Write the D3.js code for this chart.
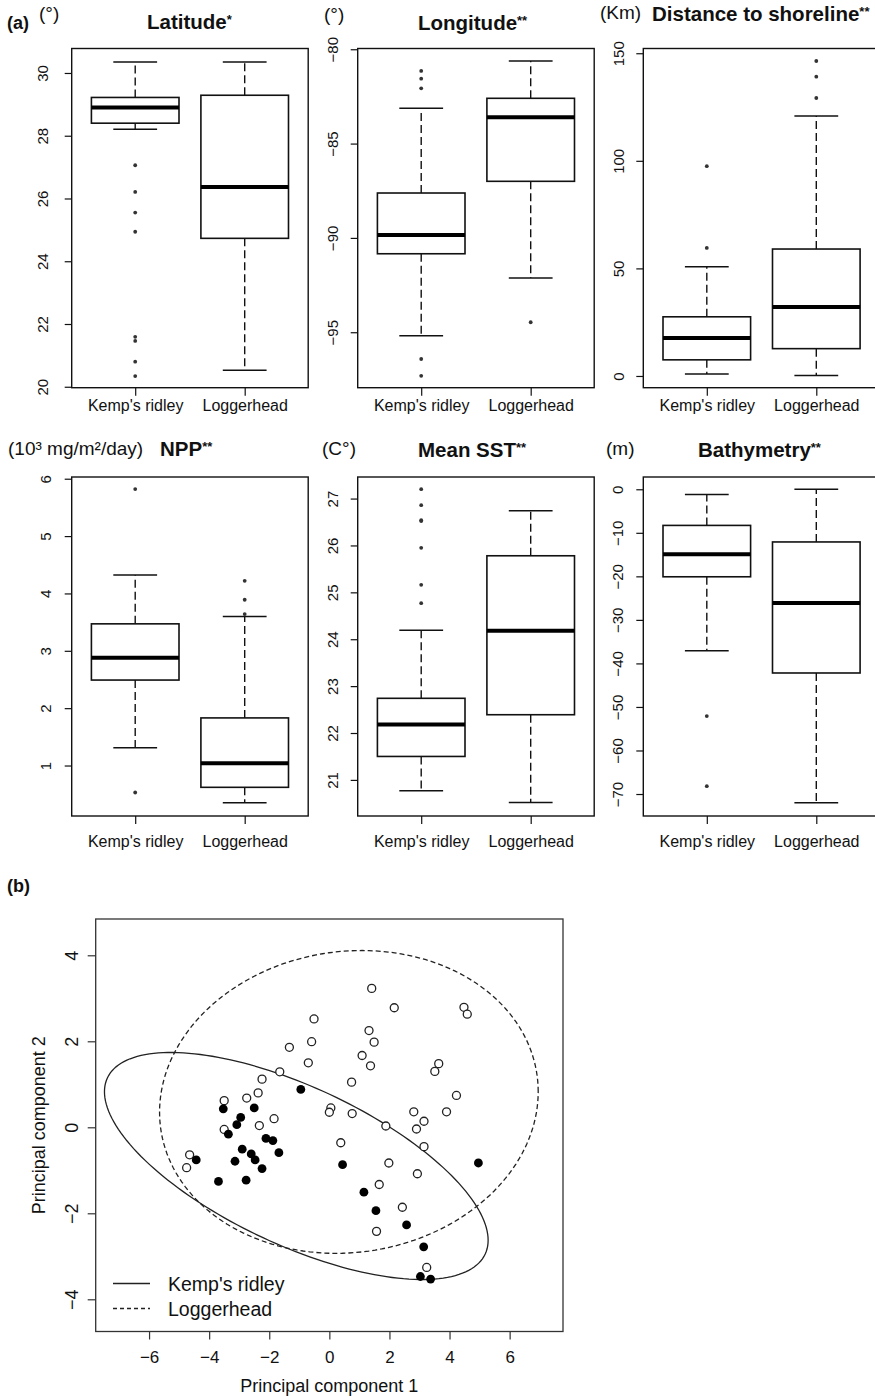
<!DOCTYPE html>
<html>
<head>
<meta charset="utf-8">
<script src="https://d3js.org/d3.v7.min.js"></script>
<style>
  body { margin: 0; background: #fff; }
  svg { display: block; }
  text { font-family: "Liberation Sans", Arial, Helvetica, sans-serif; fill: #111; }
  .title { font-weight: bold; }
</style>
</head>
<body>
<svg id="chart" width="875" height="1396"></svg>
<script>

var species = ["Kemp's ridley", "Loggerhead"];

// box summaries per species: [lower whisker, Q1, median, Q3, upper whisker]
var latitudeStats  = [[28.21, 28.40, 28.90, 29.22, 30.35], [20.53, 24.73, 26.37, 29.29, 30.35]];
var longitudeStats = [[-95.18, -90.84, -89.85, -87.62, -83.13], [-92.13, -87.00, -83.60, -82.60, -80.62]];
var distanceStats  = [[0.9, 7.5, 17.6, 27.5, 50.8], [0.2, 12.7, 32.0, 59.0, 120.8]];
var nppStats       = [[1.31, 2.49, 2.88, 3.47, 4.32], [0.35, 0.62, 1.04, 1.83, 3.60]];
var sstStats       = [[20.77, 21.50, 22.18, 22.74, 24.19], [20.52, 22.39, 24.18, 25.78, 26.74]];
var bathyStats     = [[-37.1, -20.1, -14.9, -8.3, -1.2], [-72.0, -42.2, -26.1, -12.1, 0.0]];

// outliers per species
var latitudeOut  = [[27.06, 26.21, 25.55, 24.94, 21.59, 21.46, 20.80, 20.34], []];
var longitudeOut = [[-81.15, -81.56, -82.07, -96.42, -97.31], [-94.47]];
var distanceOut  = [[97.5, 59.5], [146.4, 139.1, 129.2]];
var nppOut       = [[5.82, 0.53], [4.22, 3.89, 3.64]];
var sstOut       = [[27.20, 26.86, 26.54, 26.52, 25.95, 25.16, 24.77], []];
var bathyOut     = [[-52.1, -68.2], []];

// axis limits and ticks
var latitudeLim  = [19.97, 30.78],  latitudeTicks  = [20, 22, 24, 26, 28, 30];
var longitudeLim = [-97.94, -79.96], longitudeTicks = [-95, -90, -85, -80];
var distanceLim  = [-5.45, 152.2],  distanceTicks  = [0, 50, 100, 150];
var nppLim       = [0.12, 6.03],    nppTicks       = [1, 2, 3, 4, 5, 6];
var sstLim       = [20.23, 27.46],  sstTicks       = [21, 22, 23, 24, 25, 26, 27];
var bathyLim     = [-75.05, 2.82],  bathyTicks     = [0, -10, -20, -30, -40, -50, -60, -70];

// PCA scores
var kempPC1 = [-0.95, -3.53, -2.50, -2.95, -3.08, -3.36, -2.11, -1.88, -1.68, -2.90, -2.60, -2.47, -3.14,
               -4.43, -2.24, -3.69, -2.77, 0.44, 4.96, 1.15, 1.55, 2.57, 3.14, 3.03, 3.37];
var kempPC2 = [0.88, 0.43, 0.45, 0.23, 0.06, -0.16, -0.26, -0.31, -0.59, -0.51, -0.62, -0.76, -0.79,
               -0.76, -0.96, -1.26, -1.23, -0.87, -0.83, -1.51, -1.94, -2.27, -2.78, -3.47, -3.53];
var loggerPC1 = [1.41, 2.16, 4.48, 4.59, -0.51, 1.32, 1.49, -0.59, 1.09, 1.37, -0.70, 3.64, 3.51, 0.74,
                 4.23, 0.05, 0.00, 0.76, 1.88, 2.81, 3.15, 2.90, 3.90, 0.38, 3.15, 1.98, 2.93, 1.66,
                 2.43, 1.57, 3.24, -1.33, -1.65, -2.24, -2.37, -2.75, -3.50, -1.84, -2.33, -3.50, -4.65, -4.75];
var loggerPC2 = [3.23, 2.78, 2.79, 2.63, 2.52, 2.25, 1.98, 1.99, 1.67, 1.43, 1.50, 1.48, 1.30, 1.05,
                 0.74, 0.45, 0.35, 0.32, 0.03, 0.36, 0.14, -0.04, 0.36, -0.36, -0.45, -0.83, -1.08, -1.33,
                 -1.86, -2.42, -3.26, 1.86, 1.29, 1.12, 0.80, 0.68, 0.62, 0.20, 0.04, -0.05, -0.64, -0.94];

// ellipse centres and shape matrices
var kempCentre = [-1.1, -0.9],  kempShape = [[40.76, -11.02], [-11.02, 6.97]];
var loggerCentre = [0.65, 0.59], loggerShape = [[39.7, 1.5], [1.5, 12.4]];

var pcTicks = [-6, -4, -2, 0, 2, 4, 6];
var pcTicksY = [-4, -2, 0, 2, 4];

var svg = d3.select("#chart");
svg.append("rect").attr("width", 875).attr("height", 1396).attr("fill", "#fff");

var num = d3.format("~g");
var W = 236.5;
var panels = [
  {title: "Latitude", stars: "*", unit: "(°)", stats: latitudeStats, out: latitudeOut, lim: latitudeLim, ticks: latitudeTicks,
   left: 71.7, top: 48.5, h: 339.2, labGap: 24, xlabY: 23, unitX: 39, unitY: 20, titleX: 147, titleY: 29},
  {title: "Longitude", stars: "**", unit: "(°)", stats: longitudeStats, out: longitudeOut, lim: longitudeLim, ticks: longitudeTicks,
   left: 357.7, top: 48.5, h: 339.2, labGap: 19.5, xlabY: 23, unitX: 324, unitY: 21, titleX: 418, titleY: 30},
  {title: "Distance to shoreline", stars: "**", unit: "(Km)", stats: distanceStats, out: distanceOut, lim: distanceLim, ticks: distanceTicks,
   left: 643.3, top: 48.5, h: 339.2, labGap: 19.5, xlabY: 23, unitX: 600, unitY: 19, titleX: 652, titleY: 21},
  {title: "NPP", stars: "**", unit: "(10³ mg/m²/day)", stats: nppStats, out: nppOut, lim: nppLim, ticks: nppTicks,
   left: 71.7, top: 477, h: 339, labGap: 20.5, xlabY: 30.7, unitX: 8, unitY: 455, titleX: 160, titleY: 456},
  {title: "Mean SST", stars: "**", unit: "(C°)", stats: sstStats, out: sstOut, lim: sstLim, ticks: sstTicks,
   left: 357.7, top: 477, h: 339, labGap: 19.5, xlabY: 30.7, unitX: 322, unitY: 455, titleX: 418, titleY: 457},
  {title: "Bathymetry", stars: "**", unit: "(m)", stats: bathyStats, out: bathyOut, lim: bathyLim, ticks: bathyTicks,
   left: 643.3, top: 477, h: 339, labGap: 20.5, xlabY: 30.7, unitX: 606, unitY: 455, titleX: 698, titleY: 457}
];

svg.append("text").attr("class", "title").attr("x", 7).attr("y", 29)
  .style("font-size", "18px").text("(a)");

panels.forEach(drawBox);

function drawBox(p) {
  var x = d3.scaleLinear().domain([0.42, 2.58]).range([0, W]);
  var y = d3.scaleLinear().domain(p.lim).range([p.h, 0]);
  var g = svg.append("g").attr("transform", "translate(" + p.left + "," + p.top + ")");

  // unit and title
  svg.append("text").attr("x", p.unitX).attr("y", p.unitY).style("font-size", "19px").text(p.unit);
  var t = svg.append("text").attr("class", "title").attr("x", p.titleX).attr("y", p.titleY)
    .style("font-size", "20.5px").text(p.title);
  t.append("tspan").attr("dy", "-0.35em").style("font-size", "13px").text(p.stars);

  // y axis
  var ya = g.append("g").call(d3.axisLeft(y).tickValues(p.ticks).tickSize(7).tickSizeOuter(0).tickFormat(num));
  ya.select(".domain").remove();
  ya.selectAll("line").attr("stroke", "#111").attr("stroke-width", 1.2);
  ya.selectAll("text")
    .attr("transform", "rotate(-90)")
    .attr("x", 0).attr("y", -p.labGap).attr("dy", 0)
    .attr("text-anchor", "middle")
    .style("font-size", "15px").style("font-family", "Liberation Sans, Arial, sans-serif").attr("fill", "#111");

  // x axis
  var xa = g.append("g").attr("transform", "translate(0," + p.h + ")")
    .call(d3.axisBottom(x).tickValues([1, 2]).tickSize(8).tickSizeOuter(0)
      .tickFormat(function(d) { return species[d - 1]; }));
  xa.select(".domain").remove();
  xa.selectAll("line").attr("stroke", "#111").attr("stroke-width", 1.2);
  xa.selectAll("text").attr("y", p.xlabY).attr("dy", 0)
    .style("font-size", "16px").style("font-family", "Liberation Sans, Arial, sans-serif").attr("fill", "#111");

  var boxes = g.selectAll("g.box").data(p.stats).enter().append("g").attr("class", "box");

  // whiskers
  boxes.append("line")
    .attr("x1", function(d, i) { return x(i + 1); }).attr("x2", function(d, i) { return x(i + 1); })
    .attr("y1", function(d) { return y(d[3]); }).attr("y2", function(d) { return y(d[4]); })
    .attr("stroke", "#111").attr("stroke-width", 1.4).attr("stroke-dasharray", "8,4");
  boxes.append("line")
    .attr("x1", function(d, i) { return x(i + 1); }).attr("x2", function(d, i) { return x(i + 1); })
    .attr("y1", function(d) { return y(d[1]); }).attr("y2", function(d) { return y(d[0]); })
    .attr("stroke", "#111").attr("stroke-width", 1.4).attr("stroke-dasharray", "8,4");
  [0, 4].forEach(function(k) {
    boxes.append("line")
      .attr("x1", function(d, i) { return x(i + 0.8); }).attr("x2", function(d, i) { return x(i + 1.2); })
      .attr("y1", function(d) { return y(d[k]); }).attr("y2", function(d) { return y(d[k]); })
      .attr("stroke", "#111").attr("stroke-width", 1.5);
  });

  // box
  boxes.append("rect")
    .attr("x", function(d, i) { return x(i + 0.6); })
    .attr("width", x(1.4) - x(0.6))
    .attr("y", function(d) { return y(d[3]); })
    .attr("height", function(d) { return y(d[1]) - y(d[3]); })
    .attr("fill", "#fff").attr("stroke", "#111").attr("stroke-width", 1.6);

  // median
  boxes.append("line")
    .attr("x1", function(d, i) { return x(i + 0.6); }).attr("x2", function(d, i) { return x(i + 1.4); })
    .attr("y1", function(d) { return y(d[2]); }).attr("y2", function(d) { return y(d[2]); })
    .attr("stroke", "#000").attr("stroke-width", 4);

  // outliers
  p.out.forEach(function(vals, i) {
    g.selectAll(null).data(vals).enter().append("circle")
      .attr("cx", x(i + 1)).attr("cy", function(d) { return y(d); })
      .attr("r", 1.9).attr("fill", "#333");
  });

  // frame
  g.append("rect").attr("width", W).attr("height", p.h)
    .attr("fill", "none").attr("stroke", "#111").attr("stroke-width", 1.4);
}

// ---------------- (b) PCA ----------------
var px = d3.scaleLinear().domain([-7.776, 7.776]).range([95.7, 563]);
var py = d3.scaleLinear().domain([-4.749, 4.844]).range([1331.5, 919]);

svg.append("text").attr("class", "title").attr("x", 7).attr("y", 892)
  .style("font-size", "18px").text("(b)");

svg.append("rect").attr("x", px.range()[0]).attr("y", py.range()[1])
  .attr("width", px.range()[1] - px.range()[0]).attr("height", py.range()[0] - py.range()[1])
  .attr("fill", "none").attr("stroke", "#333").attr("stroke-width", 1.3);

var bx = svg.append("g").attr("transform", "translate(0," + py.range()[0] + ")")
  .call(d3.axisBottom(px).tickValues(pcTicks).tickSize(8).tickSizeOuter(0).tickFormat(num));
bx.select(".domain").remove();
bx.selectAll("line").attr("stroke", "#333").attr("stroke-width", 1.2);
bx.selectAll("text").attr("y", 31).attr("dy", 0)
  .style("font-size", "17px").style("font-family", "Liberation Sans, Arial, sans-serif").attr("fill", "#111");

var by = svg.append("g").attr("transform", "translate(" + px.range()[0] + ",0)")
  .call(d3.axisLeft(py).tickValues(pcTicksY).tickSize(8).tickSizeOuter(0).tickFormat(num));
by.select(".domain").remove();
by.selectAll("line").attr("stroke", "#333").attr("stroke-width", 1.2);
by.selectAll("text").attr("transform", "rotate(-90)")
  .attr("x", 0).attr("y", -18).attr("dy", 0).attr("text-anchor", "middle")
  .style("font-size", "18px").style("font-family", "Liberation Sans, Arial, sans-serif").attr("fill", "#111");

svg.append("text").attr("x", (px.range()[0] + px.range()[1]) / 2).attr("y", 1392)
  .attr("text-anchor", "middle").style("font-size", "18px").text("Principal component 1");
svg.append("text").attr("transform", "translate(45," + (py.range()[0] + py.range()[1]) / 2 + ") rotate(-90)")
  .attr("text-anchor", "middle").style("font-size", "18px").text("Principal component 2");

// ellipses from centre + shape matrix
function ellipsePath(c, s) {
  var l11 = Math.sqrt(s[0][0]), l21 = s[1][0] / l11, l22 = Math.sqrt(s[1][1] - l21 * l21);
  var pts = d3.range(0, 361, 2).map(function(a) {
    var t = a * Math.PI / 180;
    return [c[0] + l11 * Math.cos(t), c[1] + l21 * Math.cos(t) + l22 * Math.sin(t)];
  });
  return d3.line().x(function(d) { return px(d[0]); }).y(function(d) { return py(d[1]); })(pts);
}
svg.append("path").attr("d", ellipsePath(kempCentre, kempShape))
  .attr("fill", "none").attr("stroke", "#222").attr("stroke-width", 1.3);
svg.append("path").attr("d", ellipsePath(loggerCentre, loggerShape))
  .attr("fill", "none").attr("stroke", "#222").attr("stroke-width", 1.3).attr("stroke-dasharray", "5,3");

svg.append("g").selectAll("circle").data(loggerPC1).enter().append("circle")
  .attr("cx", function(d) { return px(d); })
  .attr("cy", function(d, i) { return py(loggerPC2[i]); })
  .attr("r", 4).attr("fill", "#fff").attr("stroke", "#222").attr("stroke-width", 1.3);
svg.append("g").selectAll("circle").data(kempPC1).enter().append("circle")
  .attr("cx", function(d) { return px(d); })
  .attr("cy", function(d, i) { return py(kempPC2[i]); })
  .attr("r", 4.4).attr("fill", "#000");

// legend
var legend = svg.append("g");
legend.append("line").attr("x1", 113).attr("x2", 150).attr("y1", 1283.5).attr("y2", 1283.5)
  .attr("stroke", "#222").attr("stroke-width", 1.3);
legend.append("line").attr("x1", 113).attr("x2", 150).attr("y1", 1308.5).attr("y2", 1308.5)
  .attr("stroke", "#222").attr("stroke-width", 1.3).attr("stroke-dasharray", "4,3");
legend.append("text").attr("x", 168).attr("y", 1291).style("font-size", "19.5px").text(species[0]);
legend.append("text").attr("x", 168).attr("y", 1316).style("font-size", "19.5px").text(species[1]);

</script>
</body>
</html>
